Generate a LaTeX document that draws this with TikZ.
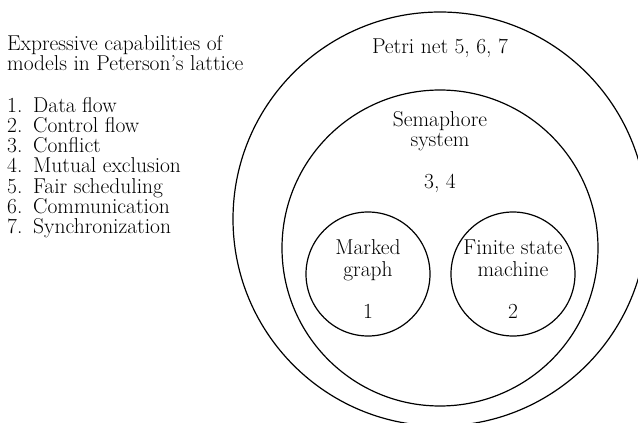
\documentclass[tikz,border=0pt]{standalone}
\begin{document}
\begin{tikzpicture}[x=1pt,y=-1pt,
  ring/.style={draw,line width=1.2pt},
  lbl/.style={font=\fontsize{21.5}{20}\selectfont,inner sep=0pt,anchor=base},
  lst/.style={font=\fontsize{21.5}{20}\selectfont,inner sep=0pt,anchor=base west}]
\useasboundingbox (0,0) rectangle (638,423);
\begin{scope}
\clip (0,0) rectangle (638,423);
\draw[ring] (440,219) circle[radius=207];
\end{scope}
\draw[ring] (440,248) circle[radius=158];
\draw[ring] (368,274) circle[radius=62];
\draw[ring] (513,274) circle[radius=62];
\node[lbl] (petri) at (440,53) {Petri net 5, 6, 7};
\node[lbl] (sem1) at (440,126) {Semaphore};
\node[lbl] (sem2) at (440,146) {system};
\node[lbl] (sem3) at (440,188) {3, 4};
\node[lbl] (mg1) at (368,254) {Marked};
\node[lbl] (mg2) at (368,276) {graph};
\node[lbl] (mg3) at (368,318) {1};
\node[lbl] (fs1) at (513,254) {Finite state};
\node[lbl] (fs2) at (513,276) {machine};
\node[lbl] (fs3) at (513,318) {2};
\node[lst] (h1) at (7,50) {Expressive capabilities of};
\node[lst] (h2) at (7,70) {models in Peterson’s lattice};
\node[lst] (i1) at (7,112) {\makebox[26pt][l]{1.}Data flow};
\node[lst] (i2) at (7,132.3) {\makebox[26pt][l]{2.}Control flow};
\node[lst] (i3) at (7,152.6) {\makebox[26pt][l]{3.}Conflict};
\node[lst] (i4) at (7,172.9) {\makebox[26pt][l]{4.}Mutual exclusion};
\node[lst] (i5) at (7,193.2) {\makebox[26pt][l]{5.}Fair scheduling};
\node[lst] (i6) at (7,213.5) {\makebox[26pt][l]{6.}Communication};
\node[lst] (i7) at (7,233.8) {\makebox[26pt][l]{7.}Synchronization};
\end{tikzpicture}
\end{document}
